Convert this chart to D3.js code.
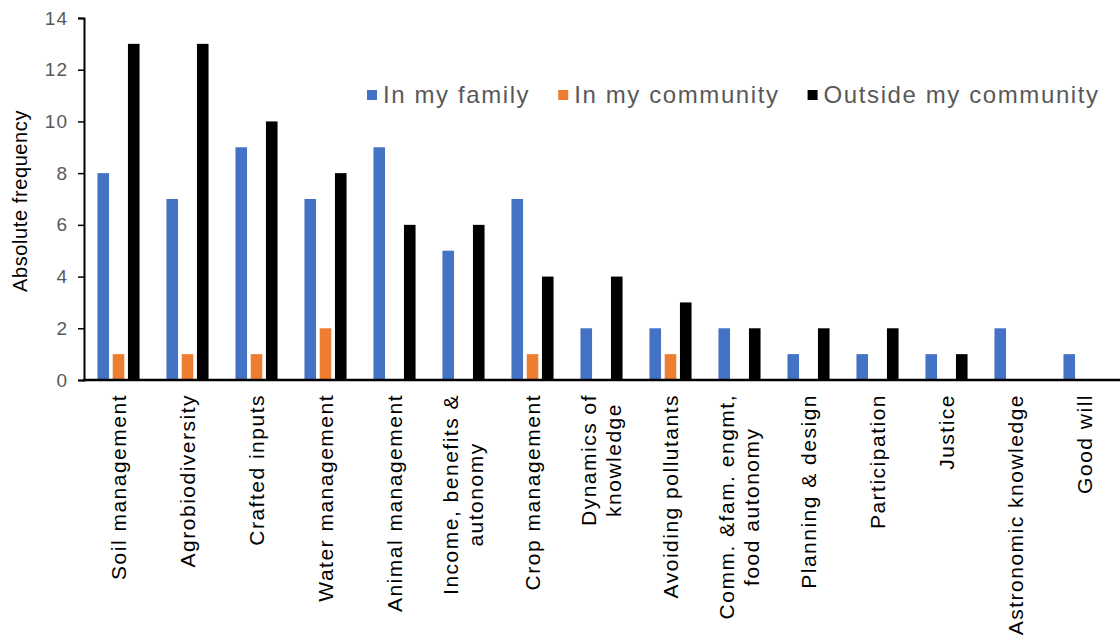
<!DOCTYPE html>
<html>
<head>
<meta charset="utf-8">
<script src="https://cdn.jsdelivr.net/npm/d3@7"></script>
<style>
  body { margin: 0; background: #ffffff; }
  svg text { font-family: "Liberation Sans", Arial, sans-serif; }
</style>
</head>
<body>
<div class="mainWrapper"></div>
<script>
// chart values
var categories = [
  ["Soil management"],
  ["Agrobiodiversity"],
  ["Crafted inputs"],
  ["Water management"],
  ["Animal management"],
  ["Income, benefits &", "autonomy"],
  ["Crop management"],
  ["Dynamics of", "knowledge"],
  ["Avoiding pollutants"],
  ["Comm. &fam. engmt,", "food autonomy"],
  ["Planning & design"],
  ["Participation"],
  ["Justice"],
  ["Astronomic knowledge"],
  ["Good will"]
];
var seriesNames = ["In my family", "In my community", "Outside my community"];
var seriesColors = ["#4472C4", "#ED7D31", "#000000"];
var inMyFamily = [8, 7, 9, 7, 9, 5, 7, 2, 2, 2, 1, 1, 1, 2, 1];
var inMyCommunity = [1, 1, 1, 2, 0, 0, 1, 0, 1, 0, 0, 0, 0, 0, 0];
var outsideMyCommunity = [13, 13, 10, 8, 6, 6, 4, 4, 3, 2, 2, 2, 1, 0, 0];
var yTicks = [0, 2, 4, 6, 8, 10, 12, 14];

var seriesValues = [inMyFamily, inMyCommunity, outsideMyCommunity];

var width = 1120, height = 637;
var margin = {top: 18, right: 1, bottom: 257, left: 84};

var svg = d3.select(".mainWrapper")
  .append("svg")
    .attr("width", width)
    .attr("height", height);

var keys = categories.map(function(c, i) { return i; });

var x0 = d3.scaleBand()
  .domain(keys)
  .range([margin.left, width - margin.right])
  .paddingInner(0.39)
  .paddingOuter(0.195);

var x1 = d3.scaleBand()
  .domain(d3.range(seriesNames.length))
  .range([0, x0.bandwidth()])
  .paddingInner(0.24);

var y = d3.scaleLinear()
  .domain([0, 14])
  .range([height - margin.bottom, margin.top]);

// bars
var groups = svg.append("g")
  .selectAll("g")
  .data(keys)
  .enter()
  .append("g")
    .attr("transform", function(d) { return "translate(" + x0(d) + ",0)"; });

groups.selectAll("rect")
  .data(function(d) {
    return seriesValues.map(function(vals, s) { return {s: s, v: vals[d]}; });
  })
  .enter()
  .append("rect")
    .attr("x", function(d) { return x1(d.s); })
    .attr("y", function(d) { return y(d.v); })
    .attr("width", x1.bandwidth())
    .attr("height", function(d) { return y(0) - y(d.v); })
    .attr("fill", function(d) { return seriesColors[d.s]; });

// y axis
var yAxis = svg.append("g")
  .attr("transform", "translate(" + margin.left + ",0)")
  .call(d3.axisLeft(y).tickValues(yTicks).tickSize(6).tickPadding(10));
yAxis.select(".domain").attr("stroke", "#000").attr("stroke-width", 2);
yAxis.selectAll(".tick line").attr("stroke", "#000").attr("stroke-width", 1.5);
yAxis.selectAll(".tick text")
  .attr("fill", "#595959")
  .attr("font-size", 19)
  .style("letter-spacing", "1px");

// x axis line
svg.append("line")
  .attr("x1", margin.left - 1)
  .attr("x2", width)
  .attr("y1", y(0))
  .attr("y2", y(0))
  .attr("stroke", "#000")
  .attr("stroke-width", 2.5);

// y title
svg.append("text")
  .attr("transform", "translate(27," + ((margin.top + y(0)) / 2 + 2) + ") rotate(-90)")
  .attr("text-anchor", "middle")
  .style("font-size", "20px")
  .style("letter-spacing", "0.6px")
  .attr("fill", "#000")
  .text("Absolute frequency");

// category labels, rotated, top aligned under the axis
var lineGap = 25;
keys.forEach(function(k) {
  var lines = categories[k];
  var cx = x0(k) + x0.bandwidth() / 2;
  var g = svg.append("g")
    .attr("transform", "translate(" + cx + "," + (y(0) + 14) + ") rotate(-90)");
  var texts = lines.map(function(t) {
    return g.append("text")
      .style("font-size", "21px")
      .style("letter-spacing", "1.5px")
      .attr("fill", "#000")
      .text(t);
  });
  var maxLen = d3.max(texts, function(t) { return t.node().getComputedTextLength(); });
  var n = lines.length;
  texts.forEach(function(t, i) {
    var off = (i - (n - 1) / 2) * lineGap;
    t.attr("x", -maxLen / 2)
      .attr("y", off + 7)
      .attr("text-anchor", "middle");
  });
});

// legend
var legend = svg.append("g");
var lx = 367, ly = 95;
seriesNames.forEach(function(name, i) {
  legend.append("rect")
    .attr("x", lx)
    .attr("y", ly - 5)
    .attr("width", 10)
    .attr("height", 10)
    .attr("fill", seriesColors[i]);
  var t = legend.append("text")
    .attr("x", lx + 16)
    .attr("y", ly + 8)
    .style("font-size", "24px")
    .style("letter-spacing", "1.6px")
    .attr("fill", "#595959")
    .text(name);
  lx = lx + 16 + t.node().getComputedTextLength() + 28;
});
</script>
</body>
</html>
